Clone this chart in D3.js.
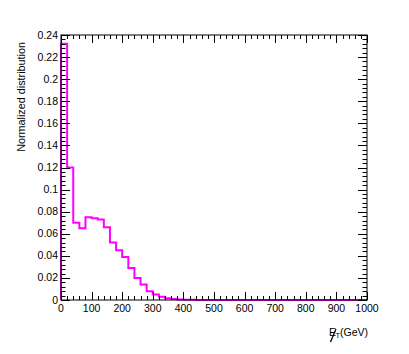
<!DOCTYPE html>
<html>
<head>
<meta charset="utf-8">
<script src="https://cdn.jsdelivr.net/npm/d3@7"></script>
<style>
  body { margin: 0; background: #fff; }
  text { font-family: "Liberation Sans", Arial, sans-serif; fill: #000; }
</style>
</head>
<body>
<div id="chart"></div>
<script>
// bin edges: 50 bins of 20 GeV from 0 to 1000
const binEdges = d3.range(0, 1001, 20);
const binValues = [0.232, 0.120, 0.070, 0.065, 0.075, 0.074, 0.073, 0.066, 0.052, 0.045,
                   0.039, 0.029, 0.020, 0.014, 0.008, 0.005, 0.003, 0.0015, 0.0008, 0.0005,
                   0.0003, 0.0002, 0.0001, 0.0001, 0, 0, 0, 0, 0, 0,
                   0, 0, 0, 0, 0, 0, 0, 0, 0, 0,
                   0, 0, 0, 0, 0, 0, 0, 0, 0, 0];
const xTicks = [0, 100, 200, 300, 400, 500, 600, 700, 800, 900, 1000];
const yTicks = [0, 0.02, 0.04, 0.06, 0.08, 0.1, 0.12, 0.14, 0.16, 0.18, 0.2, 0.22, 0.24];

const width = 409, height = 354;
const padL = 61, padR = 367, padT = 35, padB = 300;

const x = d3.scaleLinear().domain([0, 1000]).range([padL, padR]);
const y = d3.scaleLinear().domain([0, 0.24]).range([padB, padT]);

const svg = d3.select('#chart').append('svg')
  .attr('width', width).attr('height', height);

svg.append('rect').attr('width', width).attr('height', height).attr('fill', '#fff');

// histogram outline
const pts = [[0, 0]];
binValues.forEach((v, i) => {
  pts.push([binEdges[i], v]);
});
pts.push([1000, binValues[binValues.length - 1]]);
const line = d3.line()
  .x(d => x(d[0]))
  .y(d => y(d[1]))
  .curve(d3.curveStepAfter);

svg.append('path')
  .attr('d', line(pts))
  .attr('fill', 'none')
  .attr('stroke', '#ff00ff')
  .attr('stroke-width', 2);

// frame
svg.append('rect')
  .attr('x', padL).attr('y', padT)
  .attr('width', padR - padL).attr('height', padB - padT)
  .attr('fill', 'none').attr('stroke', '#000').attr('stroke-width', 1);

// ticks (ROOT style, inside, on all four sides)
const tk = svg.append('g').attr('stroke', '#000').attr('stroke-width', 1);
const xMinor = d3.range(0, 1001, 20);
xMinor.forEach(v => {
  const major = v % 100 === 0;
  const len = major ? 8 : 4;
  const px = Math.round(x(v)) + 0.5;
  tk.append('line').attr('x1', px).attr('x2', px).attr('y1', padB).attr('y2', padB - len);
  tk.append('line').attr('x1', px).attr('x2', px).attr('y1', padT).attr('y2', padT + len);
});
const yMinor = d3.range(0, 61).map(i => i * 0.004);
yMinor.forEach((v, i) => {
  const major = i % 5 === 0;
  const len = major ? 9 : 4.5;
  const py = Math.round(y(v)) + 0.5;
  tk.append('line').attr('y1', py).attr('y2', py).attr('x1', padL).attr('x2', padL + len);
  tk.append('line').attr('y1', py).attr('y2', py).attr('x1', padR).attr('x2', padR - len);
});

// tick labels
svg.append('g').selectAll('text').data(xTicks).join('text')
  .attr('x', d => x(d))
  .attr('y', padB + 12)
  .attr('text-anchor', 'middle')
  .attr('font-size', 10.5)
  .text(d => d);

svg.append('g').selectAll('text').data(yTicks).join('text')
  .attr('x', padL - 3)
  .attr('y', d => y(d) + 3.5)
  .attr('text-anchor', 'end')
  .attr('font-size', 10.5)
  .text(d => d3.format('~g')(d));

// axis titles
svg.append('text')
  .attr('transform', `translate(25, ${padT + 7}) rotate(-90)`)
  .attr('text-anchor', 'end')
  .attr('font-size', 10.8)
  .text('Normalized distribution');

const xt = svg.append('g').attr('transform', 'translate(329, 336)');
xt.append('text').attr('x', 0).attr('y', 0).attr('font-size', 10.5).text('E');
xt.append('line').attr('x1', 7).attr('y1', -7).attr('x2', 1.5).attr('y2', 6)
  .attr('stroke', '#000').attr('stroke-width', 1.3);
xt.append('text').attr('x', 6.5).attr('y', 2).attr('font-size', 7.5).text('T');
xt.append('text').attr('x', 11).attr('y', 0).attr('font-size', 10.5).text('(GeV)');
</script>
</body>
</html>
